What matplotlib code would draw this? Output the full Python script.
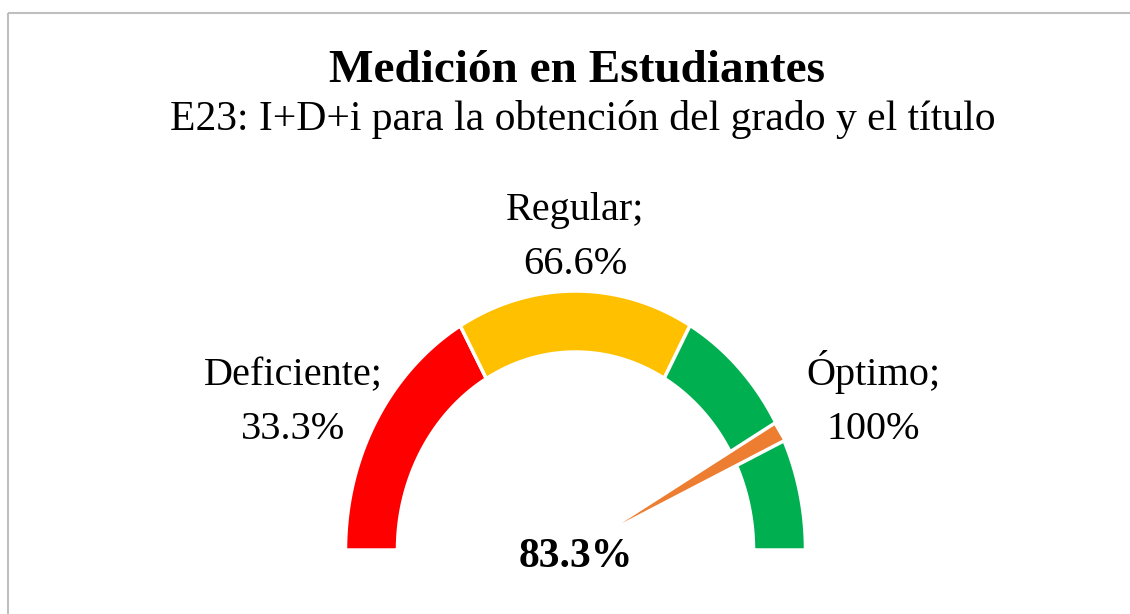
import numpy as np
import matplotlib.pyplot as plt
from matplotlib.patches import Rectangle

# gauge data
categories = ['Deficiente', 'Regular', 'Óptimo']
limits = [33.3, 66.6, 100]
segments = [33.3, 33.3, 33.4]
colors = ['#FF0000', '#FFC000', '#00B050']
value = 83.3

title = 'Medición en Estudiantes'
subtitle = 'E23: I+D+i para la obtención del grado y el título'

plt.rcParams['font.family'] = ['Liberation Serif', 'DejaVu Serif']

fig = plt.figure(figsize=(11.3, 6.14), dpi=100)
ax = fig.add_axes([0, 0, 1, 1])
ax.set_xlim(0, 1130)
ax.set_ylim(614, 0)
ax.axis('off')

# chart border
ax.add_patch(Rectangle((8, 13), 1140, 620, fill=False, edgecolor='#BFBFBF', linewidth=1.5))

cx, cy = 575.5, 550
rx_out, ry_out = 230, 259
rx_in, ry_in = 178, 198


def ring_segment(start, stop):
    t = np.linspace(np.pi * (1 - start / 100), np.pi * (1 - stop / 100), 100)
    xo = cx + rx_out * np.cos(t)
    yo = cy - ry_out * np.sin(t)
    xi = cx + rx_in * np.cos(t[::-1])
    yi = cy - ry_in * np.sin(t[::-1])
    return np.concatenate([xo, xi]), np.concatenate([yo, yi])


start = 0
for seg, col in zip(segments, colors):
    xs, ys = ring_segment(start, start + seg)
    ax.fill(xs, ys, facecolor=col, edgecolor='white', linewidth=2.5, joinstyle='miter')
    start += seg

# pointer (thin wedge, white edge eats the inner tip)
th = np.pi * (1 - value / 100)
r_tip = 15
r_end = 1 / np.sqrt((np.cos(th) / rx_out) ** 2 + (np.sin(th) / ry_out) ** 2)
half = 10
ux, uy = np.cos(th), np.sin(th)
px_, py_ = -uy, ux
pts_x = [cx + r_tip * ux,
         cx + r_end * ux + half * px_,
         cx + r_end * ux - half * px_]
pts_y = [cy - r_tip * uy,
         cy - (r_end * uy + half * py_),
         cy - (r_end * uy - half * py_)]
ax.fill(pts_x, pts_y, facecolor='#ED7D31', edgecolor='white', linewidth=2.5)

# texts
ax.text(577, 82, title, ha='center', va='baseline', fontsize=34, fontweight='bold')
ax.text(583, 130, subtitle, ha='center', va='baseline', fontsize=30)

label_pos = [(293, 385, 439), (575, 220, 274), (873, 385, 439)]
for cat, lim, (x, y1, y2) in zip(categories, limits, label_pos):
    ax.text(x, y1, cat + ';', ha='center', va='baseline', fontsize=29)
    ax.text(x, y2, f'{lim:g}%', ha='center', va='baseline', fontsize=29)

ax.text(576, 567, f'{value:.1f}%', ha='center', va='baseline', fontsize=30, fontweight='bold')

fig.savefig('out.png', dpi=100)
